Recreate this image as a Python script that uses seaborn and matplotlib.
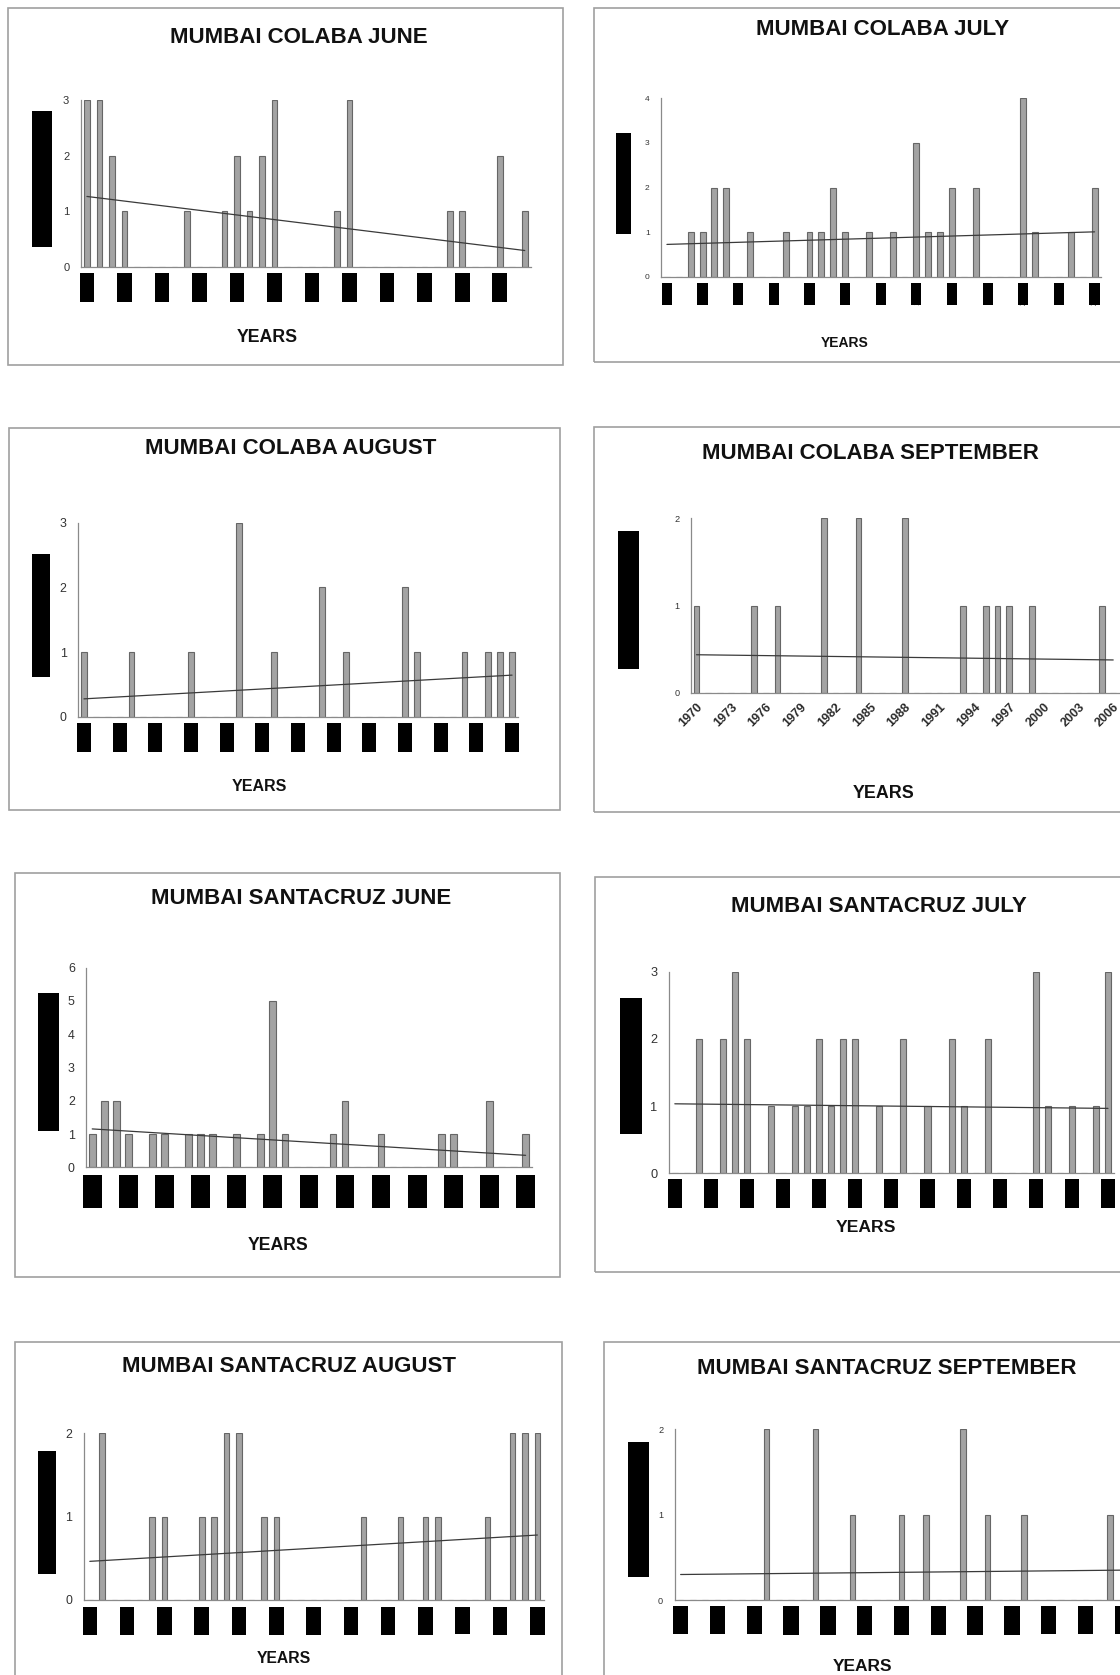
import numpy as np
import pandas as pd
import matplotlib
matplotlib.use("Agg")
import matplotlib.pyplot as plt
from matplotlib.patches import Rectangle
import seaborn as sns

# ---------------------------------------------------------------
# Number of days per year, Mumbai stations, monsoon months
# ---------------------------------------------------------------
years_colaba_june = list(range(1970, 2006))
years = list(range(1970, 2007))

colaba_june = [3, 3, 2, 1, 0, 0, 0, 0, 1, 0, 0, 1, 2, 1, 2, 3, 0, 0,
               0, 0, 1, 3, 0, 0, 0, 0, 0, 0, 0, 1, 1, 0, 0, 2, 0, 1]
colaba_july = [0, 0, 1, 1, 2, 2, 0, 1, 0, 0, 1, 0, 1, 1, 2, 1, 0, 1, 0,
               1, 0, 3, 1, 1, 2, 0, 2, 0, 0, 0, 4, 1, 0, 0, 1, 0, 2]
colaba_august = [1, 0, 0, 0, 1, 0, 0, 0, 0, 1, 0, 0, 0, 3, 0, 0, 1, 0, 0,
                 0, 2, 0, 1, 0, 0, 0, 0, 2, 1, 0, 0, 0, 1, 0, 1, 1, 1]
colaba_september = [1, 0, 0, 0, 0, 1, 0, 1, 0, 0, 0, 2, 0, 0, 2, 0, 0, 0, 2,
                    0, 0, 0, 0, 1, 0, 1, 1, 1, 0, 1, 0, 0, 0, 0, 0, 1, 0]
santacruz_june = [1, 2, 2, 1, 0, 1, 1, 0, 1, 1, 1, 0, 1, 0, 1, 5, 1, 0, 0,
                  0, 1, 2, 0, 0, 1, 0, 0, 0, 0, 1, 1, 0, 0, 2, 0, 0, 1]
santacruz_july = [0, 0, 2, 0, 2, 3, 2, 0, 1, 0, 1, 1, 2, 1, 2, 2, 0, 1, 0,
                  2, 0, 1, 0, 2, 1, 0, 2, 0, 0, 0, 3, 1, 0, 1, 0, 1, 3]
santacruz_august = [0, 2, 0, 0, 0, 1, 1, 0, 0, 1, 1, 2, 2, 0, 1, 1, 0, 0, 0,
                    0, 0, 0, 1, 0, 0, 1, 0, 1, 1, 0, 0, 0, 1, 0, 2, 2, 2]
santacruz_september = [0, 0, 0, 0, 0, 0, 0, 2, 0, 0, 0, 2, 0, 0, 1, 0, 0, 0, 1,
                       0, 1, 0, 0, 2, 0, 1, 0, 0, 1, 0, 0, 0, 0, 0, 0, 1, 0]

titles = ["MUMBAI COLABA JUNE", "MUMBAI COLABA JULY",
          "MUMBAI COLABA AUGUST", "MUMBAI COLABA SEPTEMBER",
          "MUMBAI SANTACRUZ JUNE", "MUMBAI SANTACRUZ JULY",
          "MUMBAI SANTACRUZ AUGUST", "MUMBAI SANTACRUZ SEPTEMBER"]
series = [colaba_june, colaba_july, colaba_august, colaba_september,
          santacruz_june, santacruz_july, santacruz_august, santacruz_september]
series_years = [years_colaba_june] + [years] * 7
y_max = [3, 4, 3, 2, 6, 3, 2, 2]
y_axis_label = "NUMBER OF DAYS"
x_axis_label = "YEARS"

# ---------------------------------------------------------------
# Page layout (pixel coordinates on a 1120 x 1675 page)
# ---------------------------------------------------------------
W, H, DPI = 1120, 1675, 100

layout = [
    dict(frame=(7.5, 8.5, 563, 364.5), title=(299, 37.4), axes=(80.7, 100, 531, 266.7),
         ytick_fs=8, ylab=(42, 179, 20, 136), yearbox=(13.8, 29, 6.3), xlab=(267, 338, 12.8),
         bar_w=0.45),
    dict(frame=(594, 8.3, 1140, 361.7), title=(882.4, 29.3), axes=(661, 98.3, 1100.5, 276.7),
         ytick_fs=6, ylab=(623.3, 183.5, 14.6, 101), yearbox=(10, 22, 6.3), xlab=(845, 343, 10),
         bar_w=0.5),
    dict(frame=(9, 428, 560, 810), title=(291, 449), axes=(78, 522.7, 518, 716.7),
         ytick_fs=8.9, ylab=(41, 615.5, 18.6, 123), yearbox=(14.5, 29, 6), xlab=(259, 786.7, 11.5),
         bar_w=0.5),
    dict(frame=(594, 426.7, 1140, 811.7), title=(870.6, 453.3), axes=(690.7, 518.3, 1119, 692.7),
         ytick_fs=6.6, ylab=(628.5, 600, 21, 136.6), yearbox=None, xlab=(884, 794, 12.9),
         bar_w=0.5),
    dict(frame=(14.5, 873, 560, 1276.7), title=(301, 898), axes=(86.2, 967.7, 531.6, 1167.3),
         ytick_fs=8.9, ylab=(48.5, 1061.8, 21, 137.7), yearbox=(19, 33, 7.7), xlab=(278, 1245, 12.7),
         bar_w=0.55),
    dict(frame=(595, 877.3, 1140, 1271.7), title=(879, 906.7), axes=(668.8, 971.7, 1114, 1173.3),
         ytick_fs=9.2, ylab=(630.9, 1066, 21, 136), yearbox=(14.5, 28.7, 5.7), xlab=(865.5, 1227.7, 12.6),
         bar_w=0.5),
    dict(frame=(15.3, 1341.7, 561.8, 1720), title=(289, 1366.7), axes=(83.6, 1433.3, 543.6, 1600),
         ytick_fs=8.9, ylab=(47.2, 1512.8, 18.4, 122.3), yearbox=(14.5, 28, 6.7), xlab=(283.6, 1658.3, 11.3),
         bar_w=0.45),
    dict(frame=(603.5, 1341.7, 1140, 1720), title=(886.8, 1369), axes=(674.5, 1429.3, 1128.5, 1600),
         ytick_fs=6.6, ylab=(638.5, 1509.5, 21, 135.6), yearbox=(15, 28.3, 6), xlab=(863, 1666.7, 12.5),
         bar_w=0.45),
]

BAR_FACE = "#a3a3a3"
BAR_EDGE = "#666666"
TREND = "#3a3a3a"
AXIS = "#8a8a8a"
FRAME = "#a0a0a0"

sns.set_style("white")
plt.rcParams["font.family"] = ["Liberation Sans", "DejaVu Sans"]

fig = plt.figure(figsize=(W / DPI, H / DPI), dpi=DPI)
fig.patch.set_facecolor("white")
renderer = fig.canvas.get_renderer()


def fx(x):
    return x / W


def fy(y):
    return 1 - y / H


def em_metrics(text, **kw):
    """Width and height of a text box, in units of the font size (px)."""
    t = fig.text(0, 0, text, fontsize=72, **kw)
    bb = t.get_window_extent(renderer)
    t.remove()
    px = 72 * DPI / 72
    return bb.width / px, bb.height / px


def box_font(text, w, h, **kw):
    """Font size (pt) and pad so a vertical text with a filled box spans w x h px."""
    k, lh = em_metrics(text, **kw)
    s = (h - w) / (k - lh)
    pad = max((w / s - lh) / 2, 0.02)
    return s * 72 / DPI, pad, s


for title, counts, yrs, ymax, lay in zip(titles, series, series_years, y_max, layout):
    n = len(counts)

    # chart-area frame
    x0f, y0f, x1f, y1f = lay["frame"]
    fig.add_artist(Rectangle((fx(x0f), fy(y1f)), (x1f - x0f) / W, (y1f - y0f) / H,
                             transform=fig.transFigure, fill=False,
                             edgecolor=FRAME, linewidth=1.2))

    # plot area
    ax0, ayt, ax1, ayb = lay["axes"]
    ax = fig.add_axes([fx(ax0), fy(ayb), (ax1 - ax0) / W, (ayb - ayt) / H])
    ax.patch.set_alpha(0)

    df = pd.DataFrame({"year": [str(y) for y in yrs], "days": counts})
    sns.barplot(data=df, x="year", y="days", ax=ax, color=BAR_FACE,
                edgecolor=BAR_EDGE, linewidth=0.8, width=lay["bar_w"],
                errorbar=None, saturation=1)
    sns.regplot(x=np.arange(n, dtype=float), y=np.asarray(counts, dtype=float),
                ax=ax, scatter=False, ci=None, truncate=True, color=TREND,
                line_kws={"linewidth": 0.9})

    ax.set_xlim(-0.5, n - 0.5)
    ax.set_ylim(0, ymax)
    ax.set_xlabel("")
    ax.set_ylabel("")
    sns.despine(ax=ax)
    for side in ("left", "bottom"):
        ax.spines[side].set_color(AXIS)
        ax.spines[side].set_linewidth(0.9)

    ax.set_yticks(range(0, ymax + 1))
    ax.tick_params(axis="y", length=2.2, width=0.8, color=AXIS, pad=6,
                   labelsize=lay["ytick_fs"], labelcolor="#333333")

    tick_pos = list(range(0, n, 3))
    tick_lab = [str(yrs[i]) for i in tick_pos]
    ax.set_xticks(tick_pos)
    ax.set_xticks(np.arange(-0.5, n, 1.0), minor=True)
    ax.tick_params(axis="x", which="minor", length=3.2, width=0.8, color=AXIS,
                   direction="out")

    if lay["yearbox"] is None:
        ax.set_xticklabels(tick_lab, rotation=45, ha="right", rotation_mode="anchor",
                           fontsize=9, fontweight="bold", color="#2a2a2a")
        ax.tick_params(axis="x", which="major", length=0, pad=6)
    else:
        bw, bh, gap = lay["yearbox"]
        fs, pad, s_px = box_font(tick_lab[0], bw, bh)
        ax.set_xticklabels(tick_lab, rotation=90, fontsize=fs, color="black")
        ax.tick_params(axis="x", which="major", length=0,
                       pad=(gap + pad * s_px) * 72 / DPI)
        for lbl in ax.get_xticklabels():
            lbl.set_bbox(dict(boxstyle=f"square,pad={pad:.3f}", facecolor="black",
                              edgecolor="black", linewidth=0))

    # y-axis title
    cx, cy, lw_, lh_ = lay["ylab"]
    fs, pad, _ = box_font(y_axis_label, lw_, lh_)
    fig.text(fx(cx), fy(cy), y_axis_label, rotation=90, ha="center", va="center",
             fontsize=fs, color="black",
             bbox=dict(boxstyle=f"square,pad={pad:.3f}", facecolor="black",
                       edgecolor="black", linewidth=0))

    # chart title
    tx, ty = lay["title"]
    fig.text(fx(tx), fy(ty), title, ha="center", va="center", fontsize=16,
             fontweight="bold", color="#111111")

    # x-axis title
    xx, xy, xfs = lay["xlab"]
    fig.text(fx(xx), fy(xy), x_axis_label, ha="center", va="center", fontsize=xfs,
             fontweight="bold", color="#111111")

fig.savefig("out.png", dpi=DPI, facecolor="white")
